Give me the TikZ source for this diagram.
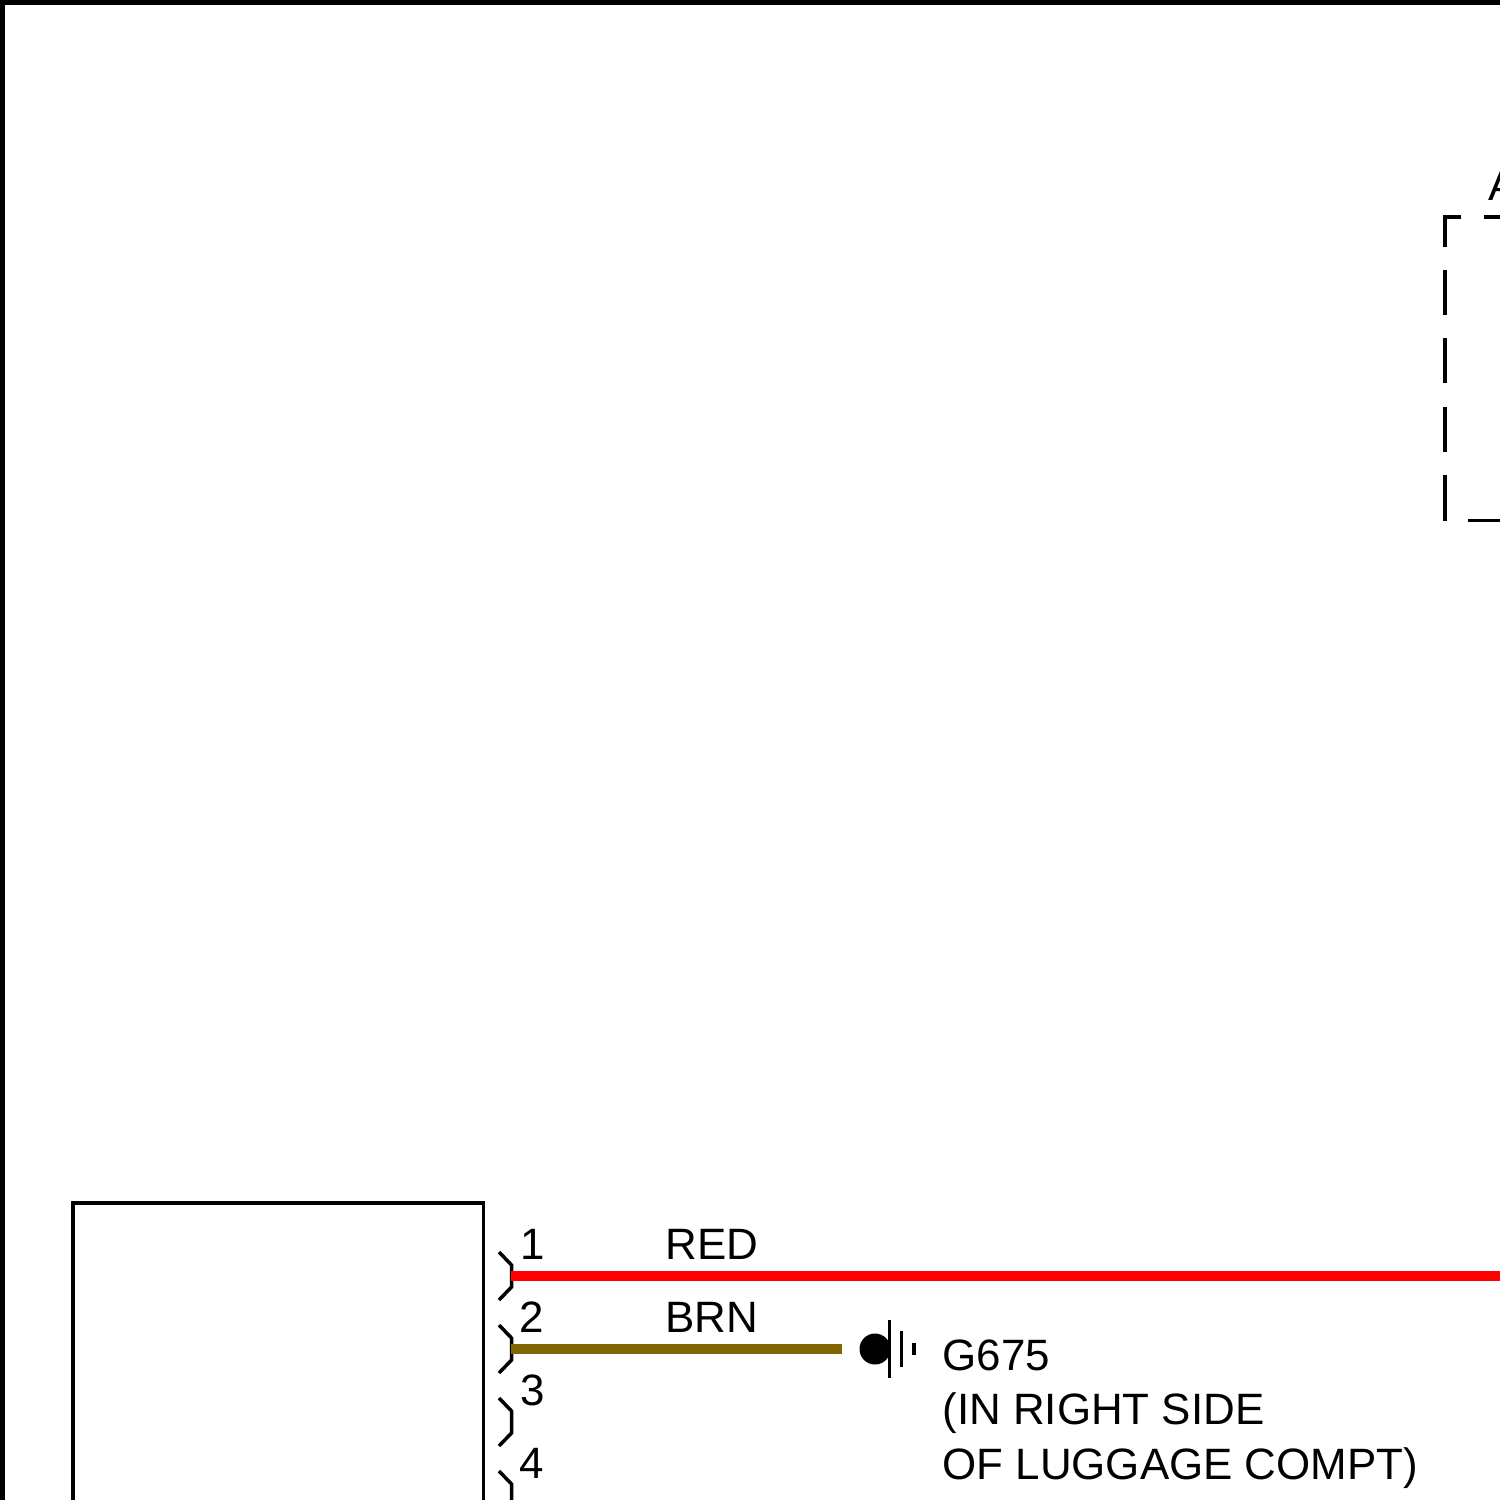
\documentclass[tikz,border=0pt]{standalone}
\usepackage{fontspec}
\setmainfont{Liberation Sans}
\definecolor{wirered}{HTML}{FF0000}
\definecolor{wirebrown}{HTML}{806600}
\tikzset{
  lbl/.style={anchor=base west,inner sep=0pt,outer sep=0pt,font=\fontsize{21.95pt}{26pt}\selectfont},
  thin line/.style={draw=black,line width=1.75pt},
  wire/.style={line width=5pt}
}
\begin{document}
\begin{tikzpicture}[x=0.5pt,y=-0.5pt]
\useasboundingbox (0,0) rectangle (1500,1500);
\clip (0,0) rectangle (1500,1500);
% frame
\fill[black] (0,0) rectangle (1500,5);
\fill[black] (0,0) rectangle (5,1500);
% module box
\draw[thin line] (73,1500) -- (73,1203) -- (483.5,1203) -- (483.5,1500);
% connector pins
\foreach \y in {1276,1349,1422,1495}{
  \draw[thin line] (499,\y-24) -- (511.5,\y-11) -- (511.5,\y+11) -- (499,\y+24);
}
\node[lbl] (p1) at (520,1259) {1};
\node[lbl] (p2) at (519,1332) {2};
\node[lbl] (p3) at (520,1405) {3};
\node[lbl] (p4) at (519,1478) {4};
% wires
\coordinate (redS) at (511,1275.5);
\coordinate (redE) at (1500,1275.5);
\coordinate (brnS) at (511,1348.5);
\coordinate (brnE) at (842,1348.5);
\draw[wire,wirered] (redS) -- (redE);
\draw[wire,wirebrown] (brnS) -- (brnE);
\node[lbl] (red) at (665.5,1259) {RED};
\node[lbl] (brn) at (665.5,1332) {BRN};
% ground symbol
\fill[black] (875,1349) circle[radius=15.5];
\draw[thin line] (889.5,1320) -- (889.5,1378);
\draw[thin line] (901.5,1331) -- (901.5,1367);
\draw[thin line] (914,1343) -- (914,1355);
\node[lbl] (g1) at (942.5,1370) {G675};
\node[lbl] (g2) at (942.5,1424) {(IN RIGHT SIDE};
\node[lbl] (g3) at (942.5,1479) {OF LUGGAGE COMPT)};
% dashed box
\draw[thin line] (1461,217) -- (1445,217) -- (1445,247);
\draw[thin line] (1484,217) -- (1500,217);
\draw[thin line] (1445,270) -- (1445,315);
\draw[thin line] (1445,338) -- (1445,383);
\draw[thin line] (1445,407) -- (1445,452);
\draw[thin line] (1445,475) -- (1445,521);
\draw[thin line] (1468,520.5) -- (1500,520.5);
\node[lbl] (a) at (1488,200) {A};
\end{tikzpicture}
\end{document}
